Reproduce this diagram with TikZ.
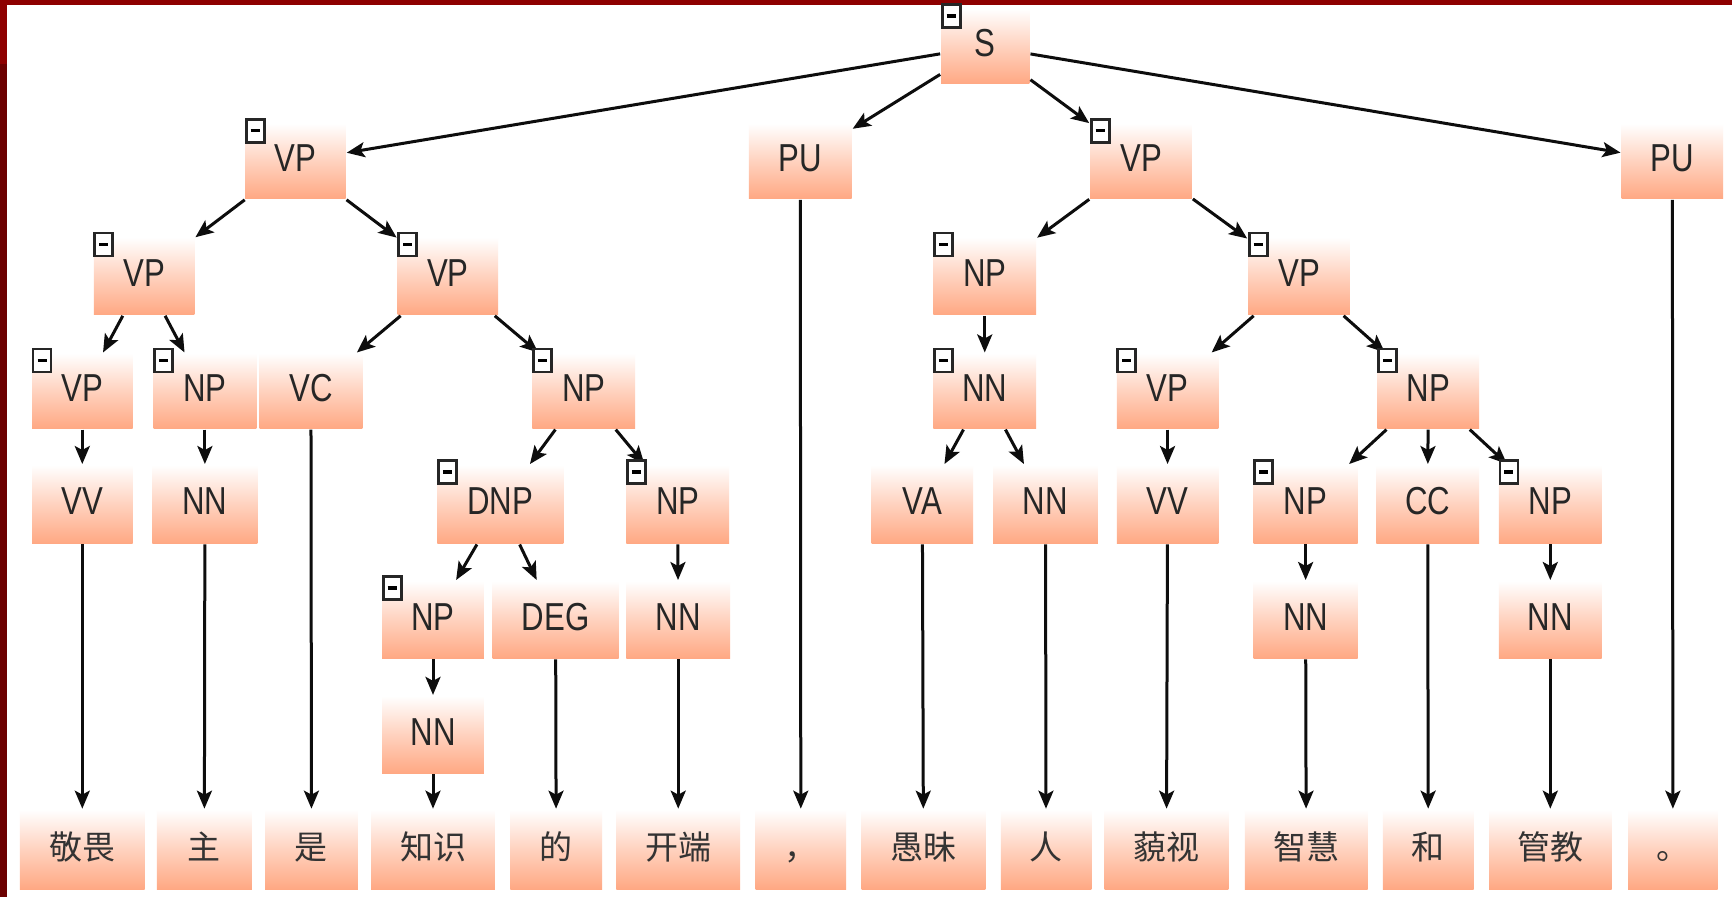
\documentclass[tikz,border=0pt]{standalone}
\usepackage{fontspec}
\setmainfont[FakeStretch=0.8]{Liberation Sans}
\newfontfamily\cjk{Noto Sans CJK SC}
\usetikzlibrary{arrows.meta}
\definecolor{barred}{HTML}{8E0000}
\definecolor{bardark}{HTML}{6C0000}
\definecolor{salmon}{HTML}{FFA883}
\newcommand{\bx}[6]{\node[treebox,minimum width={(#4-#2)*1.1046},minimum height={(#5-#3)*1.1046}] (#1) at ({(#2+#4)/2},{(#3+#5)/2}) {#6};}
\newcommand{\wordbx}[4]{\node[treebox,wordtext,minimum width={(#3-#2)*1.1046},minimum height={(805-733)*1.1046}] (#1) at ({(#2+#3)/2},769) {#4};}
\tikzset{
  treebox/.style={rectangle,inner sep=0pt,outer sep=1pt,top color=white,bottom color=salmon,middle color=salmon!52!white,
    font=\fontsize{39}{39}\selectfont,text=black!85,text height=28pt,text depth=7pt},
  wordtext/.style={font=\cjk\fontsize{33}{33}\selectfont,text=black!80,text height=29pt,text depth=8pt},
  togglebox/.style={draw=black!85,line width=2.8pt,fill=white,inner sep=0pt,minimum width=18pt,minimum height=23pt},
  treeedge/.style={draw=black!95,line width=3pt,-{Stealth[length=18pt,width=15pt,inset=4pt]}}
}
\begin{document}
\begin{tikzpicture}[x=1.1046pt,y=-1.1046pt]
\useasboundingbox (0,0) rectangle (1568,812);
\fill[white] (0,0) rectangle (1568,812);
\fill[bardark] (0,0) rectangle (6.5,812);
\fill[barred] (0,0) rectangle (6.5,58);
\fill[barred] (0,0) rectangle (1568,4.5);
% row 0 and 1
\bx{s}{852}{8}{932}{76}{S}
\bx{vpa}{222}{112}{313}{180}{VP}
\bx{pua}{678}{112}{771}{180}{PU}
\bx{vpb}{987}{112}{1079}{180}{VP}
\bx{pub}{1468}{112}{1560}{180}{PU}
% row 2
\bx{vpc}{85}{215}{176}{285}{VP}
\bx{vpd}{360}{215}{451}{285}{VP}
\bx{npa}{845}{215}{938}{285}{NP}
\bx{vpe}{1130}{215}{1222}{285}{VP}
% row 3
\bx{vpf}{29}{320}{120}{388}{VP}
\bx{npb}{139}{320}{232}{388}{NP}
\bx{vc}{235}{320}{328}{388}{VC}
\bx{npc}{482}{320}{575}{388}{NP}
\bx{nna}{845}{320}{938}{388}{NN}
\bx{vpg}{1011}{320}{1103}{388}{VP}
\bx{npd}{1247}{320}{1339}{388}{NP}
% row 4
\bx{vva}{29}{421}{120}{492}{VV}
\bx{nnb}{138}{421}{233}{492}{NN}
\bx{dnp}{396}{421}{510}{492}{DNP}
\bx{npe}{567}{421}{660}{492}{NP}
\bx{va}{789}{421}{881}{492}{VA}
\bx{nnc}{899}{421}{994}{492}{NN}
\bx{vvb}{1011}{421}{1103}{492}{VV}
\bx{npf}{1135}{421}{1229}{492}{NP}
\bx{cc}{1246}{421}{1339}{492}{CC}
\bx{npg}{1357}{421}{1450}{492}{NP}
% row 5
\bx{nph}{346}{526}{438}{596}{NP}
\bx{deg}{446}{526}{560}{596}{DEG}
\bx{nnd}{567}{526}{661}{596}{NN}
\bx{nne}{1135}{526}{1229}{596}{NN}
\bx{nnf}{1357}{526}{1450}{596}{NN}
% row 6
\bx{nng}{346}{630}{438}{700}{NN}
% words
\wordbx{w1}{18}{131}{敬畏}
\wordbx{w2}{142}{228}{主}
\wordbx{w3}{240}{324}{是}
\wordbx{w4}{336}{448}{知识}
\wordbx{w5}{462}{545}{的}
\wordbx{w6}{558}{670}{开端}
\wordbx{w7}{684}{766}{，}
\wordbx{w8}{780}{892}{愚昧}
\wordbx{w9}{906}{988}{人}
\wordbx{w10}{1000}{1112}{藐视}
\wordbx{w11}{1127}{1238}{智慧}
\wordbx{w12}{1252}{1334}{和}
\wordbx{w13}{1348}{1459}{管教}
\wordbx{w14}{1474}{1555}{。}
% connectors
\foreach \a/\b in {s/vpa,s/pua,s/vpb,s/pub,
  vpa/vpc,vpa/vpd,vpc/vpf,vpc/npb,vpd/vc,vpd/npc,
  vpf/vva,npb/nnb,npc/dnp,npc/npe,dnp/nph,dnp/deg,npe/nnd,nph/nng,
  vpb/npa,vpb/vpe,npa/nna,nna/va,nna/nnc,vpe/vpg,vpe/npd,vpg/vvb,
  npd/npf,npd/cc,npd/npg,npf/nne,npg/nnf,
  vva/w1,nnb/w2,vc/w3,nng/w4,deg/w5,nnd/w6,pua/w7,va/w8,nnc/w9,vvb/w10,nne/w11,cc/w12,nnf/w13,pub/w14}{
  \draw[treeedge] (\a) -- (\b);
}
% toggles
\foreach \n in {s,vpa,vpb,vpc,vpd,npa,vpe,vpf,npb,npc,nna,vpg,npd,dnp,npe,npf,npg,nph}{
  \node[togglebox] (t\n) at ([xshift=11pt,yshift=-8pt]\n.north west) {\rule{9pt}{3.5pt}};
}
\end{tikzpicture}
\end{document}
